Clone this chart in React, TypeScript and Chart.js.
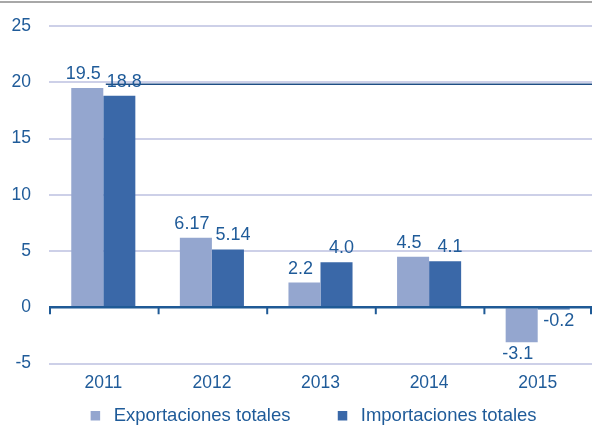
import React, { useEffect, useRef } from "react";
import { Chart, registerables } from "chart.js";

Chart.register(...registerables);

const categories = ["2011", "2012", "2013", "2014", "2015"];
const exportaciones = [19.5, 6.17, 2.2, 4.5, -3.1];
const importaciones = [18.8, 5.14, 4.0, 4.1, -0.2];
const exportLabels = ["19.5", "6.17", "2.2", "4.5", "-3.1"];
const importLabels = ["18.8", "5.14", "4.0", "4.1", "-0.2"];
const seriesNames = ["Exportaciones totales", "Importaciones totales"];
const yMin = -5;
const yMax = 25;
const yStep = 5;

const EXPORT_COLOR = "#94a6cf";
const IMPORT_COLOR = "#3a68a8";
const TEXT_COLOR = "#1f5b99";
const AXIS_COLOR = "#1f5a96";
const GRID_COLOR = "#cdd0e8";
const FONT = "'Liberation Sans', Arial, sans-serif";
const LABEL_SHIFT = [-4, 5];

const decorPlugin = {
  id: "decor",
  beforeDraw(chart: any) {
    const { ctx, width } = chart;
    ctx.save();
    ctx.strokeStyle = "#a8a8a8";
    ctx.lineWidth = 2;
    ctx.beginPath();
    ctx.moveTo(0, 2);
    ctx.lineTo(width, 2);
    ctx.stroke();
    ctx.restore();
  },
  afterDatasetsDraw(chart: any) {
    const { ctx } = chart;
    const x = chart.scales.x;
    const y = chart.scales.y;
    const y0 = y.getPixelForValue(0);
    ctx.save();
    ctx.strokeStyle = AXIS_COLOR;
    ctx.lineWidth = 2.5;
    ctx.beginPath();
    ctx.moveTo(x.left, y0);
    ctx.lineTo(x.right, y0);
    ctx.stroke();
    ctx.lineWidth = 2;
    for (let i = 0; i <= categories.length; i++) {
      const px = Math.min(x.getPixelForValue(i - 0.5) + 1, x.right - 1);
      ctx.beginPath();
      ctx.moveTo(px, y0);
      ctx.lineTo(px, y0 + 7);
      ctx.stroke();
    }
    // value labels
    const labelSets = [exportLabels, importLabels];
    ctx.fillStyle = TEXT_COLOR;
    ctx.font = `18px ${FONT}`;
    ctx.textAlign = "center";
    // dark rule through the first import label (as in the source graphic)
    const firstImp = chart.getDatasetMeta(1).data[0];
    if (firstImp) {
      const w = ctx.measureText(importLabels[0]).width;
      const sx = firstImp.x + LABEL_SHIFT[1] - w / 2 - 1;
      const ry = y.getPixelForValue(20) + 2;
      ctx.strokeStyle = "#1f4e85";
      ctx.lineWidth = 1.5;
      ctx.beginPath();
      ctx.moveTo(sx, ry);
      ctx.lineTo(x.right, ry);
      ctx.stroke();
    }
    chart.data.datasets.forEach((ds: any, di: number) => {
      const meta = chart.getDatasetMeta(di);
      meta.data.forEach((bar: any, i: number) => {
        const v = ds.data[i];
        const txt = labelSets[di][i];
        const lx = bar.x + LABEL_SHIFT[di];
        if (v >= 0) {
          ctx.textBaseline = "alphabetic";
          ctx.fillText(txt, lx, bar.y - 9);
        } else {
          ctx.textBaseline = "top";
          ctx.fillText(txt, lx, bar.y + 3);
        }
      });
    });
    ctx.restore();
  },
};

export default function App() {
  const ref = useRef<HTMLCanvasElement | null>(null);
  useEffect(() => {
    if (!ref.current) return;
    const chart = new Chart(ref.current, {
      type: "bar",
      data: {
        labels: categories,
        datasets: [
          {
            label: seriesNames[0],
            data: exportaciones,
            backgroundColor: EXPORT_COLOR,
            borderWidth: 0,
            categoryPercentage: 0.59,
            barPercentage: 1,
          },
          {
            label: seriesNames[1],
            data: importaciones,
            backgroundColor: IMPORT_COLOR,
            borderWidth: 0,
            categoryPercentage: 0.59,
            barPercentage: 1,
          },
        ],
      },
      options: {
        animation: false,
        responsive: false,
        maintainAspectRatio: false,
        layout: { padding: { left: 31, right: 0, top: 26, bottom: 3 } },
        plugins: {
          tooltip: { enabled: false },
          legend: {
            position: "bottom",
            labels: {
              usePointStyle: true,
              pointStyle: "rect",
              boxWidth: 18,
              boxHeight: 9.5,
              padding: 43,
              color: TEXT_COLOR,
              font: { family: FONT, size: 18.5 },
            },
          },
        },
        scales: {
          x: {
            grid: { display: false },
            border: { display: false },
            ticks: {
              mirror: true,
              color: TEXT_COLOR,
              font: { family: FONT, size: 17.5 },
              padding: -30,
            },
            afterFit: (s: any) => {
              s.height = 0;
            },
          },
          y: {
            min: yMin,
            max: yMax,
            border: { display: false },
            grid: {
              drawTicks: false,
              color: (c: any) =>
                c.tick && c.tick.value === 0 ? "rgba(0,0,0,0)" : GRID_COLOR,
              lineWidth: 2,
            },
            ticks: {
              stepSize: yStep,
              mirror: true,
              crossAlign: "far",
              color: TEXT_COLOR,
              font: { family: FONT, size: 17.5 },
              padding: -37.5,
            },
            afterFit: (s: any) => {
              s.width = 18;
            },
          },
        },
      },
      plugins: [decorPlugin],
    });
    return () => chart.destroy();
  }, []);
  return (
    <div style={{ position: "fixed", left: 0, top: 0, width: 592, height: 438, background: "#fff" }}>
      <canvas ref={ref} width={592} height={438} />
    </div>
  );
}
